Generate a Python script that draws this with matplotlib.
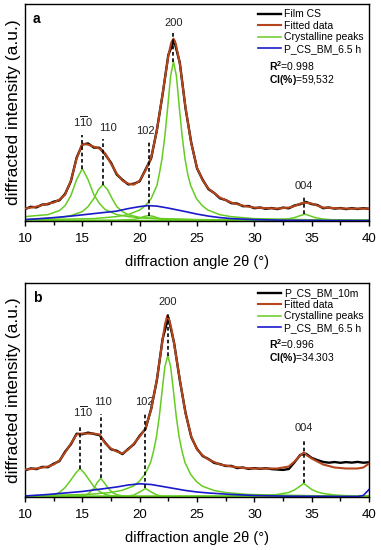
import numpy as np
import matplotlib
matplotlib.use("Agg")
from matplotlib import pyplot as plt
from matplotlib.ticker import MultipleLocator, NullLocator

plt.rcParams['font.family'] = ['Liberation Sans', 'DejaVu Sans']
plt.rcParams['mathtext.fontset'] = 'custom'
plt.rcParams['mathtext.rm'] = 'Liberation Sans'
plt.rcParams['mathtext.bf'] = 'Liberation Sans:bold'
plt.rcParams['mathtext.it'] = 'Liberation Sans:italic'

# ---------------- panel a ----------------
# raw pattern (Film CS), every 0.5 deg
x_raw = np.arange(10, 40.01, 0.5)
raw_a = [11.5, 13.8, 13.2, 16.0, 16.4, 18.9, 20.3, 26.8, 39.2, 62.9, 76.1, 77.2, 73.1, 72.8, 66.2,
         57.9, 46.1, 40.8, 36.2, 36.9, 39.3, 50.8, 62.2, 90.7, 126.3, 165.8, 180.4, 157.9, 112.2, 77.8,
         52.3, 40.7, 31.4, 27.6, 22.3, 20.6, 17.4, 17.1, 14.4, 14.6, 12.4, 13.1, 11.8, 12.6, 11.5,
         13.0, 12.3, 15.1, 16.4, 18.7, 16.5, 15.6, 12.4, 13.1, 12.0, 12.6, 11.5, 12.5, 11.6, 12.4, 11.8]

# fitted sum
x_fit_a = [10, 11, 12, 12.5, 13, 13.5, 14, 14.5, 15, 15.5, 16, 16.5, 17, 17.5, 18, 18.5, 19, 19.5,
           20, 20.5, 21, 21.5, 22, 22.5, 22.75, 22.95, 23.15, 23.5, 24, 24.5, 25, 25.5, 26, 27, 28,
           29, 30, 31, 32, 33, 33.5, 34, 34.5, 35, 35.5, 36, 37, 38, 39, 40]
fit_a = [12, 14, 17, 18, 21, 26, 40, 62, 77, 76, 74, 72, 67, 57, 47, 40, 37, 36,
         40, 50, 63, 90, 127, 165, 178, 182, 177, 157, 113, 77, 53, 40, 32, 23, 18,
         15, 13, 12.5, 12, 13, 14.5, 17, 18, 17, 15, 13, 12.5, 12, 12, 12]

# crystalline peaks
pk_a = {
    '1-10': ([10, 11, 12, 13, 13.5, 14, 14.5, 15, 15.5, 16, 16.5, 17, 18, 19, 20, 22, 25, 30, 40],
             [4, 5, 6, 10, 15, 25, 41, 52, 41, 26, 17, 11, 6, 4, 3, 2, 1, 0.5, 0.2]),
    '110': ([10, 13, 14, 15, 15.5, 16, 16.4, 16.8, 17.2, 17.6, 18, 18.5, 19, 20, 22, 25, 40],
            [1, 3, 5, 9, 14, 22, 31, 36, 31, 22, 14, 9, 6, 3, 1.5, 0.8, 0]),
    '102': ([10, 18, 19.5, 20, 20.4, 20.8, 21.2, 21.6, 22, 23.5, 40],
            [0, 0.3, 1.2, 2.5, 4.2, 5, 4.2, 2.5, 1.2, 0.3, 0]),
    '200': ([10, 16, 18, 19, 20, 20.5, 21, 21.5, 21.7, 21.95, 22.2, 22.45, 22.7, 22.95, 23.2, 23.45,
             23.7, 23.95, 24.2, 24.45, 24.95, 25.45, 25.95, 26.95, 27.95, 29.95, 35, 40],
            [0.6, 2, 4, 6, 10.6, 15, 22, 35, 46, 62, 85, 114, 145, 159, 145, 114,
             85, 62, 46, 35, 22, 15, 10.6, 6, 4, 2, 0.8, 0.35]),
    '004': ([10, 30, 32, 33, 33.5, 34, 34.4, 34.8, 35.3, 36, 37, 40],
            [0, 0.3, 0.8, 1.8, 3, 5, 6.5, 5, 3, 1.5, 0.7, 0.2]),
}

# amorphous contribution
x_am_a = [10, 12, 14, 16, 18, 19, 20, 20.7, 21.5, 22.5, 24, 25, 26, 27, 28, 30, 33, 40]
am_a = [1, 2.5, 4.5, 7, 9.5, 12, 14, 15, 14.5, 12.5, 9, 6.5, 4.5, 3, 2, 1, 0.3, 0]

# peak markers: position, top of dashed line, bottom of dashed line, label height
mk_pos_a = [15.0, 16.83, 20.8, 22.94, 34.35]
mk_top_a = [86, 82, 80, 188, 24]
mk_bot_a = [52, 36, 5, 159, 6.5]
mk_lab_a = [92, 88, 85, 193, 30]
mk_dx_a = [0.1, 0.4, -0.3, 0.0, 0.0]

# ---------------- panel b ----------------
raw_b = [26.2, 28.1, 27.4, 29.6, 29.3, 32.8, 35.4, 44.9, 52.2, 62.8, 62.3, 63.9, 62.6, 61.4, 53.7,
         47.2, 45.8, 42.4, 47.6, 52.3, 60.8, 67.4, 87.6, 116.5, 157.7, 179.3, 153.8, 116.4, 83.7, 59.4,
         47.6, 40.4, 37.5, 33.6, 32.4, 30.5, 30.6, 28.4, 29.0, 27.6, 28.4, 27.7, 28.3, 27.4, 27.0,
         26.6, 27.5, 34.2, 41.6, 42.8, 38.6, 36.4, 34.6, 33.8, 34.5, 33.7, 34.4, 33.9, 34.6, 33.8, 34.2]

x_fit_b = [10, 11, 12, 12.5, 13, 13.5, 14, 14.5, 15, 15.5, 16, 16.5, 17, 17.5, 18, 18.5, 19, 19.5,
           20, 20.5, 21, 21.5, 22, 22.2, 22.4, 22.6, 22.8, 23, 23.5, 24, 24.5, 25, 25.5, 26, 27, 28,
           29, 30, 31, 32, 33, 33.5, 34, 34.3, 34.6, 35, 35.5, 36, 37, 38, 39, 39.5, 40]
fit_b = [27, 28, 30, 32, 36, 44, 53, 62, 63, 63, 63, 62, 53, 48, 45, 43, 47, 53,
         60, 68, 87, 117, 157, 172, 181, 176, 166, 153, 117, 83, 60, 47, 41, 37, 32, 30,
         28.5, 28, 28, 28, 30, 35, 41, 44, 41, 38, 35, 32, 29, 28, 28, 29, 33]

pk_b = {
    '1-10': ([10, 12, 12.5, 13, 13.5, 14, 14.4, 14.8, 15.2, 15.6, 16, 16.5, 17, 17.5, 18.5, 40],
             [0, 0.5, 1.5, 4, 9, 16.5, 23, 28, 23, 16.5, 10, 5, 2, 0.7, 0, 0]),
    '110': ([10, 15, 15.5, 16, 16.3, 16.6, 16.9, 17.2, 17.6, 18, 18.5, 19.5, 40],
            [0, 0.5, 2.5, 8, 14, 18, 14, 9, 4, 1.8, 0.5, 0, 0]),
    '102': ([10, 19, 19.5, 20, 20.5, 21, 21.5, 22, 23, 40],
            [0, 0.3, 1.5, 4.5, 8, 4.5, 1.5, 0.3, 0, 0]),
    '200': ([10, 15.45, 17.45, 18.45, 19.45, 19.95, 20.45, 20.95, 21.2, 21.45, 21.7, 21.95, 22.2,
             22.45, 22.7, 22.95, 23.2, 23.45, 23.7, 23.95, 24.45, 24.95, 25.45, 26.45, 27.45,
             29.45, 35, 40],
            [0.65, 2, 4, 6.1, 10.4, 15, 22, 34, 45, 59, 79, 105, 130,
             141, 130, 105, 79, 59, 45, 34, 22, 15, 10.4, 6.1, 4,
             2, 0.8, 0.33]),
    '004': ([10, 30, 31, 32, 33, 33.5, 34, 34.3, 34.6, 35, 35.5, 36, 37, 38, 40],
            [0, 0.5, 1, 2, 4, 6.5, 10.5, 13, 10.5, 7, 4.5, 3, 1.5, 0.8, 0.3]),
}

x_am_b = [10, 12, 14, 15, 16, 18, 19, 20, 21, 22, 23, 24, 25, 26, 28, 30, 33, 39, 39.5, 40]
am_b = [0.5, 2, 4, 5, 6.5, 9.5, 11.5, 12.7, 12, 10, 8, 6, 4.5, 3.5, 2, 1, 0.3, 0, 1, 7]

mk_pos_b = [14.83, 16.6, 20.5, 22.44, 34.33]
mk_top_b = [72, 83, 85, 185, 58]
mk_bot_b = [28, 18, 8, 141, 13]
mk_lab_b = [78, 90, 90, 190, 64]
mk_dx_b = [0.2, 0.2, -0.1, 0.0, 0.0]

mk_text = [r'$\mathrm{1\overline{1}0}$', '110', '102', '200', '004']

c_raw = 'black'
c_fit = '#b5451b'
c_cry = '#66cc22'
c_am = '#1a1acc'


def draw(ax, raw, x_fit, fit, pk, x_am, am, pos, top, bot, lab, dx, name, r2, ci, letter, ymax):
    ax.plot(x_raw, raw, color=c_raw, lw=1.7, label=name, zorder=3)
    ax.plot(x_fit, fit, color=c_fit, lw=1.5, label='Fitted data', zorder=4)
    first = True
    for key in pk:
        xs, ys = pk[key]
        ax.plot(xs, ys, color=c_cry, lw=1.1, zorder=2,
                label='Crystalline peaks' if first else None)
        first = False
    ax.plot(x_am, am, color=c_am, lw=1.2, label='P_CS_BM_6.5 h', zorder=2.5)

    for p, t, b, l, d, s in zip(pos, top, bot, lab, dx, mk_text):
        ax.plot([p, p], [b, t], color='black', ls=(0, (2.2, 1.6)), lw=1.2, zorder=5)
        ax.text(p + d, l, s, ha='center', va='bottom', fontsize=8, color='#222222')

    ax.set_xlim(10, 40)
    ax.set_ylim(-0.5, ymax)
    ax.xaxis.set_major_locator(MultipleLocator(5))
    ax.xaxis.set_minor_locator(MultipleLocator(2.5))
    ax.yaxis.set_major_locator(NullLocator())
    ax.tick_params(axis='x', which='major', direction='out', length=3.5, width=1, labelsize=9.5, pad=5)
    ax.tick_params(axis='x', which='minor', direction='out', length=3, width=1)
    for sp in ax.spines.values():
        sp.set_linewidth(1.0)
    ax.set_xlabel('diffraction angle 2θ (°)', fontsize=10.5, labelpad=7)
    ax.set_ylabel('diffracted intensity (a.u.)', fontsize=12.5, labelpad=3)
    ax.text(0.022, 0.93, letter, transform=ax.transAxes, fontsize=10, fontweight='bold',
            ha='left', va='center')
    ax.legend(loc='upper right', frameon=False, fontsize=7.5, handlelength=2.2,
              handletextpad=0.3, labelspacing=0.15, borderaxespad=0.1)
    ax.text(0.71, 0.715, r'$\mathbf{R^2}$=' + r2, transform=ax.transAxes, fontsize=7.5, va='center')
    ax.text(0.71, 0.65, r'$\mathbf{CI(\%)}$=' + ci, transform=ax.transAxes, fontsize=7.5, va='center')


fig = plt.figure(figsize=(3.81, 5.5), dpi=100)
ax1 = fig.add_axes([0.0656, 0.598, 0.903, 0.3947])
ax2 = fig.add_axes([0.0656, 0.0964, 0.903, 0.3891])

draw(ax1, raw_a, x_fit_a, fit_a, pk_a, x_am_a, am_a, mk_pos_a, mk_top_a, mk_bot_a, mk_lab_a,
     mk_dx_a, 'Film CS', '0.998', '59,532', 'a', 216.7)
draw(ax2, raw_b, x_fit_b, fit_b, pk_b, x_am_b, am_b, mk_pos_b, mk_top_b, mk_bot_b, mk_lab_b,
     mk_dx_b, 'P_CS_BM_10m', '0.996', '34.303', 'b', 213.7)

fig.savefig('out.png', dpi=100)
